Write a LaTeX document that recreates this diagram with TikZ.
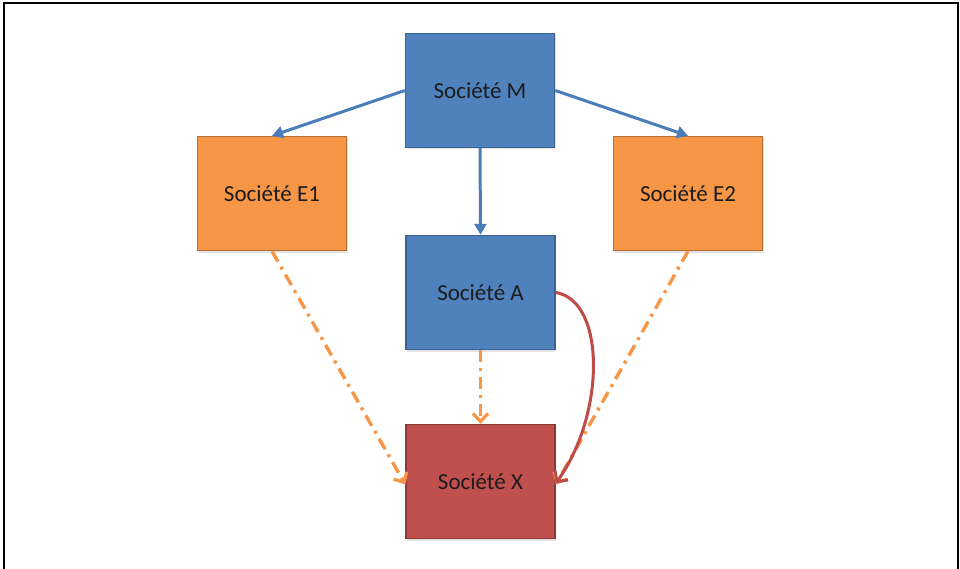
\documentclass[tikz,border=0pt]{standalone}
\usepackage{fontspec}
\setmainfont{Carlito}
\usetikzlibrary{arrows.meta,shadows}
\definecolor{boxblue}{HTML}{4F81BD}
\definecolor{blueedge}{HTML}{3A6394}
\definecolor{boxorange}{HTML}{F79646}
\definecolor{orangeedge}{HTML}{B66D31}
\definecolor{boxred}{HTML}{C0504D}
\definecolor{rededge}{HTML}{8C3836}
\definecolor{linkblue}{HTML}{4A7EBB}
\definecolor{linkorange}{HTML}{F79646}
\definecolor{linkred}{HTML}{BE4B48}
\definecolor{labeltext}{HTML}{1C1C1C}
\begin{document}
\begin{tikzpicture}[x=1pt,y=-1pt,
  company/.style={rectangle, minimum width=149pt, minimum height=114pt,
    line width=1.4pt, text=labeltext, inner sep=0pt,
    font=\fontsize{23}{27}\selectfont,
    drop shadow={opacity=0.22, shadow xshift=1pt, shadow yshift=-2pt}},
  parent/.style={company, fill=boxblue, draw=blueedge},
  sister/.style={company, fill=boxorange, draw=orangeedge},
  target/.style={company, fill=boxred, draw=rededge},
  owns/.style={draw=linkblue, line width=3pt,
    -{Triangle[length=11pt,width=12pt]}},
  sells/.style={draw=linkorange, line width=3.4pt,
    dash pattern=on 12pt off 6pt on 3pt off 6pt,
    -{Straight Barb[length=8pt,width=15pt,line width=3.2pt]}},
  supplies/.style={draw=linkred, line width=3pt,
    -{Straight Barb[length=8pt,width=16pt,line width=3pt]}}]

\useasboundingbox (0,0) rectangle (960,569);
\fill[white] (0,0) rectangle (960,569);
\draw[line width=1.6pt] (4,569) -- (4,3) -- (958,3) -- (958,569);

\node[parent] (M) at (480,90.5) {Société M};
\node[sister] (E1) at (272,193.5) {Société E1};
\node[sister] (E2) at (688,193.5) {Société E2};
\node[parent] (A) at (480.5,292.5) {Société A};
\node[target] (X) at (480.5,481.5) {Société X};

\draw[owns] (M.west) -- (E1.north);
\draw[owns] (M.east) -- (E2.north);
\draw[owns] (M.south) -- (A.north);

\draw[sells] (E1.south) -- ([yshift=-3pt]X.west);
\draw[sells] (A.south) -- (X.north);
\draw[sells] (E2.south) -- ([yshift=-3pt]X.east);

\draw[supplies] (A.east) .. controls +(50,8) and +(50,-70) .. ([yshift=-2pt]X.east);
\end{tikzpicture}
\end{document}
